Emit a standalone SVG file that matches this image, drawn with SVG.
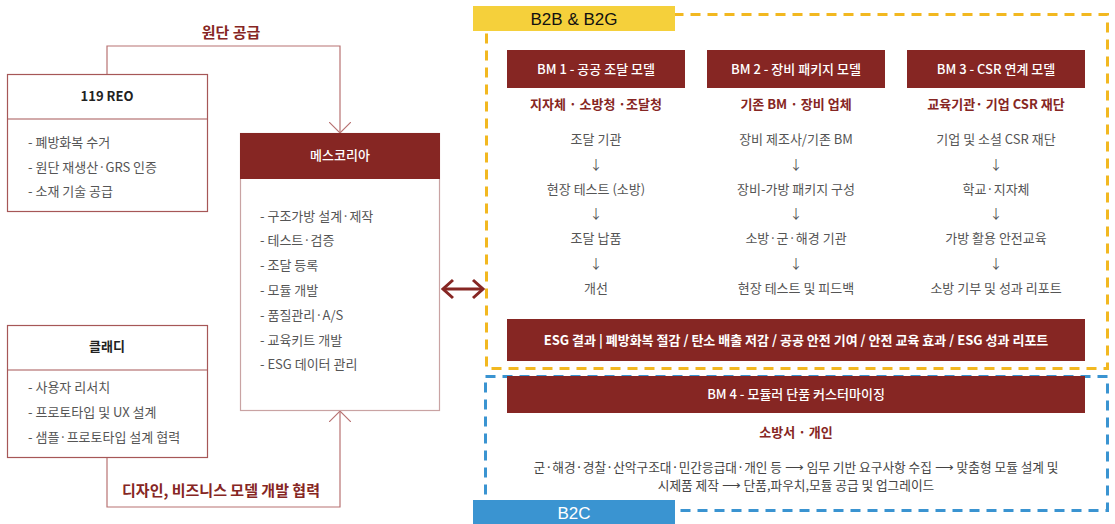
<svg xmlns="http://www.w3.org/2000/svg" width="1115" height="524" viewBox="0 0 1115 524">
<defs>
<style>
text{font-family:"Noto Sans CJK KR","Noto Sans",sans-serif;}
.body{font-size:13px;fill:#555555;}
.hdr{font-size:13px;font-weight:bold;fill:#222222;text-anchor:middle;}
.whd{font-size:13px;fill:#ffffff;text-anchor:middle;font-weight:500;}
.sub{font-size:13px;font-weight:bold;fill:#862623;text-anchor:middle;}
.flow{font-size:13px;fill:#555555;text-anchor:middle;}
.para{font-size:12.7px;fill:#444444;text-anchor:middle;}
.lbl{font-size:15px;font-weight:bold;fill:#862623;text-anchor:middle;}
.tag{font-family:"Liberation Sans",Arial,sans-serif;font-size:17px;text-anchor:middle;}
.box{fill:#ffffff;stroke:#A65757;stroke-width:1.2;}
.mbox{fill:#ffffff;stroke:#C9A3A3;stroke-width:1.2;}
.red{fill:#862623;}
.conn{fill:none;stroke:#B87272;stroke-width:1.2;}
</style>
<marker id="chev" viewBox="0 0 12 22" refX="11" refY="11" markerWidth="12" markerHeight="22" markerUnits="userSpaceOnUse" orient="auto">
<path d="M0,0 L11,11 L0,22" fill="none" stroke="#B87272" stroke-width="1.2"/>
</marker>
<marker id="dbl" viewBox="0 0 14 22" refX="12" refY="11" markerWidth="14" markerHeight="22" markerUnits="userSpaceOnUse" orient="auto-start-reverse">
<path d="M2,2 L12,11 L2,20" fill="none" stroke="#862623" stroke-width="3"/>
</marker>
</defs>
<rect width="1115" height="524" fill="#ffffff"/>

<!-- zones -->
<g id="zone-b2b">
<rect x="486.5" y="14.5" width="621" height="354" fill="none" stroke="#F2B820" stroke-width="3" stroke-dasharray="10 7"/>
<rect x="473" y="6" width="202" height="25" fill="#F5D03B"/>
<text class="tag" x="574" y="24.5" fill="#111111">B2B &amp; B2G</text>
</g>
<g id="zone-b2c">
<rect x="485.5" y="376.5" width="622" height="134" fill="none" stroke="#3A94D1" stroke-width="3" stroke-dasharray="10 7"/>
<rect x="473" y="500" width="202" height="24" fill="#3A94D1"/>
<text class="tag" x="574" y="519" fill="#ffffff">B2C</text>
</g>

<!-- connectors -->
<g id="connectors">
<path class="conn" d="M107,74 V46 H340 V133" marker-end="url(#chev)"/>
<path class="conn" d="M107,457 V507 H340 V411" marker-end="url(#chev)"/>
<line x1="443" y1="289" x2="483" y2="289" stroke="#862623" stroke-width="3" marker-start="url(#dbl)" marker-end="url(#dbl)"/>
<text class="lbl" x="231" y="37.5">원단 공급</text>
<text class="lbl" x="221" y="495.5">디자인, 비즈니스 모델 개발 협력</text>
</g>

<!-- left nodes -->
<g id="node-119reo">
<rect class="box" x="7.5" y="74.5" width="200" height="137"/>
<line x1="7.5" y1="119" x2="207.5" y2="119" stroke="#A65757" stroke-width="1.2"/>
<text class="hdr" x="107" y="101">119 REO</text>
<text class="body" x="28" y="146.5">- 폐방화복 수거</text>
<text class="body" x="28" y="171.5">- 원단 재생산·GRS 인증</text>
<text class="body" x="28" y="195.5">- 소재 기술 공급</text>
</g>

<g id="node-meskorea">
<rect class="mbox" x="240.5" y="133.5" width="199" height="277"/>
<rect class="red" x="240" y="133" width="200" height="46"/>
<text class="whd" x="340" y="160">메스코리아</text>
<text class="body" x="260" y="220.5">- 구조가방 설계·제작</text>
<text class="body" x="260" y="245">- 테스트·검증</text>
<text class="body" x="260" y="269.5">- 조달 등록</text>
<text class="body" x="260" y="294.5">- 모듈 개발</text>
<text class="body" x="260" y="319.5">- 품질관리·A/S</text>
<text class="body" x="260" y="344.5">- 교육키트 개발</text>
<text class="body" x="260" y="369">- ESG 데이터 관리</text>
</g>

<g id="node-cladi">
<rect class="box" x="7.5" y="325.5" width="200" height="132"/>
<line x1="7.5" y1="370" x2="207.5" y2="370" stroke="#A65757" stroke-width="1.2"/>
<text class="hdr" x="107" y="351">클래디</text>
<text class="body" x="28" y="391.5">- 사용자 리서치</text>
<text class="body" x="28" y="417">- 프로토타입 및 UX 설계</text>
<text class="body" x="28" y="441.5">- 샘플·프로토타입 설계 협력</text>
</g>

<!-- BM columns -->
<g id="node-bm1">
<rect class="red" x="507" y="50" width="178" height="38"/>
<text class="whd" x="596" y="73.5">BM 1 - 공공 조달 모델</text>
<text class="sub" x="596" y="108.5">지자체 · 소방청 ·조달청</text>
<text class="flow" x="596" y="143.5">조달 기관</text>
<text class="flow" x="596" y="168.5">↓</text>
<text class="flow" x="596" y="193.5">현장 테스트 (소방)</text>
<text class="flow" x="596" y="218">↓</text>
<text class="flow" x="596" y="243">조달 납품</text>
<text class="flow" x="596" y="267.5">↓</text>
<text class="flow" x="596" y="292.5">개선</text>
</g>

<g id="node-bm2">
<rect class="red" x="707" y="50" width="178" height="38"/>
<text class="whd" x="796" y="73.5">BM 2 - 장비 패키지 모델</text>
<text class="sub" x="796" y="108.5">기존 BM · 장비 업체</text>
<text class="flow" x="796" y="143.5">장비 제조사/기존 BM</text>
<text class="flow" x="796" y="168.5">↓</text>
<text class="flow" x="796" y="193.5">장비-가방 패키지 구성</text>
<text class="flow" x="796" y="218">↓</text>
<text class="flow" x="796" y="243">소방·군·해경 기관</text>
<text class="flow" x="796" y="267.5">↓</text>
<text class="flow" x="796" y="292.5">현장 테스트 및 피드백</text>
</g>

<g id="node-bm3">
<rect class="red" x="907" y="50" width="178" height="38"/>
<text class="whd" x="996" y="73.5">BM 3 - CSR 연계 모델</text>
<text class="sub" x="996" y="108.5">교육기관· 기업 CSR 재단</text>
<text class="flow" x="996" y="143.5">기업 및 소셜 CSR 재단</text>
<text class="flow" x="996" y="168.5">↓</text>
<text class="flow" x="996" y="193.5">학교·지자체</text>
<text class="flow" x="996" y="218">↓</text>
<text class="flow" x="996" y="243">가방 활용 안전교육</text>
<text class="flow" x="996" y="267.5">↓</text>
<text class="flow" x="996" y="292.5">소방 기부 및 성과 리포트</text>
</g>

<g id="node-esg">
<rect class="red" x="507" y="319" width="578" height="42"/>
<text class="whd" x="796" y="345" style="font-weight:bold">ESG 결과 | 폐방화복 절감 / 탄소 배출 저감 / 공공 안전 기여 / 안전 교육 효과 / ESG 성과 리포트</text>
</g>

<g id="node-bm4">
<rect class="red" x="507" y="376" width="578" height="37"/>
<text class="whd" x="796" y="399">BM 4 - 모듈러 단품 커스터마이징</text>
<text class="sub" x="796" y="436.5">소방서 · 개인</text>
<text class="para" x="796" y="471.5">군·해경·경찰·산악구조대·민간응급대·개인 등 ⟶ 임무 기반 요구사항 수집 ⟶ 맞춤형 모듈 설계 및</text>
<text class="para" x="796" y="489.5">시제품 제작 ⟶ 단품,파우치,모듈 공급 및 업그레이드</text>
</g>
</svg>
